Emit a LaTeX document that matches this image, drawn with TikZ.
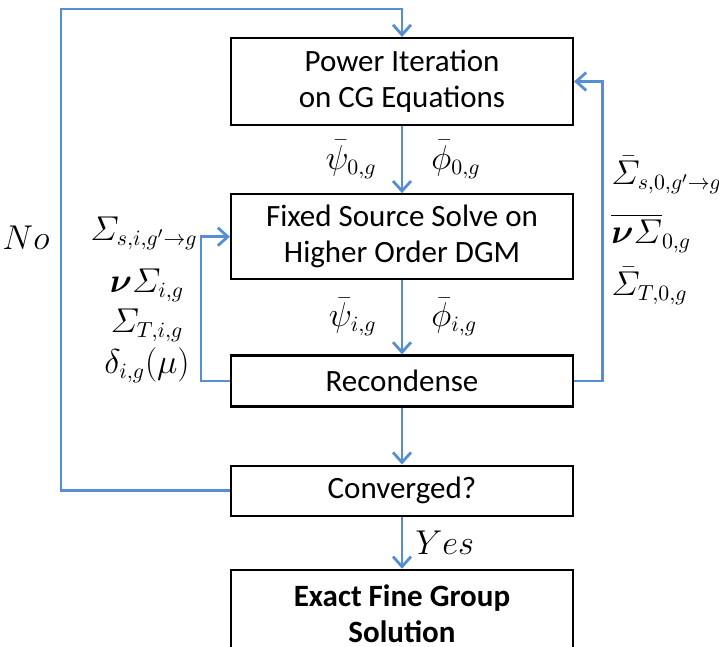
\documentclass[tikz,border=0pt]{standalone}
\usepackage{amsmath}
\usepackage{amssymb}
\usepackage[no-math]{fontspec}
\setmainfont{Carlito}
\usetikzlibrary{arrows.meta, positioning}
\definecolor{flowblue}{RGB}{85,142,213}

\begin{document}
\begin{tikzpicture}[
    auto,
    font=\fontsize{15.5bp}{18bp}\selectfont,
    block/.style={rectangle, draw=black, line width=1.1bp, minimum width=171bp,
                  text centered, align=center, inner sep=3bp},
    xs/.style={inner sep=0pt, font=\fontsize{16bp}{19bp}\selectfont},
    flow/.style={draw=flowblue, line width=1.4bp, -{Straight Barb[length=5bp, width=9bp]}}
]
\useasboundingbox (0,0) rectangle (359.5bp,-323.5bp);
\node (power_iter) [block, minimum height=43.5bp] at (201bp,-40.75bp) {Power Iteration\\on CG Equations};
\node (fixed_src)  [block, minimum height=42.5bp, below=33.5bp of power_iter] {Fixed Source Solve on\\Higher Order DGM};
\node (recondense) [block, minimum height=25.5bp, below=37bp of fixed_src] {Recondense};
\node (converged)  [block, minimum height=25bp, below=28.5bp of recondense] {Converged?};
\node (exact_sol)  [block, minimum height=43.5bp, below=26bp of converged, font=\fontsize{15.5bp}{18bp}\selectfont\bfseries] {Exact Fine Group\\Solution};
\node (xs_s)  [xs] at (72bp,-116.5bp) {$\varSigma_{s,i,g'\to g}$};
\node (xs_nu) [xs] at (73.5bp,-142.5bp) {$\boldsymbol{\nu}\varSigma_{i,g}$};
\node (xs_t)  [xs] at (73.5bp,-162.5bp) {$\varSigma_{T,i,g}$};
\node (delta) [xs] at (73.5bp,-182.5bp) {$\delta_{i,g}(\mu)$};
\node (cg_s)  [xs, anchor=west] at (305.5bp,-87.5bp)  {$\bar{\varSigma}_{s,0,g'\to g}$};
\node (cg_nu) [xs, anchor=west] at (305.5bp,-116.5bp) {$\overline{\boldsymbol{\nu}\varSigma}_{0,g}$};
\node (cg_t)  [xs, anchor=west] at (305.5bp,-143bp) {$\bar{\varSigma}_{T,0,g}$};
\draw [flow] (power_iter) -- node [xs, swap, left=12bp] {$\bar{\psi}_{0,g}$} node [xs, right=14bp] {$\bar{\phi}_{0,g}$} (fixed_src);
\draw [flow] (fixed_src) -- node [xs, swap, left=12bp] {$\bar{\psi}_{i,g}$} node [xs, right=14bp] {$\bar{\phi}_{i,g}$} (recondense);
\draw [flow] (recondense) -- (converged);
\draw [flow] (converged) -- node [xs, right=6bp] {$Yes$} (exact_sol);
\draw [flow] (recondense.west) -- ++(-14.5bp,0) |- (fixed_src.west);
\draw [flow] (recondense.east) -- ++(14bp,0) |- (power_iter.east);
\draw [flow] (converged.west) -- ++(-84.5bp,0) |- node [xs, pos=0.25, yshift=6bp, left=5bp] {$No$} ([yshift=14bp]power_iter.north) -- (power_iter.north);
\end{tikzpicture}
\end{document}
